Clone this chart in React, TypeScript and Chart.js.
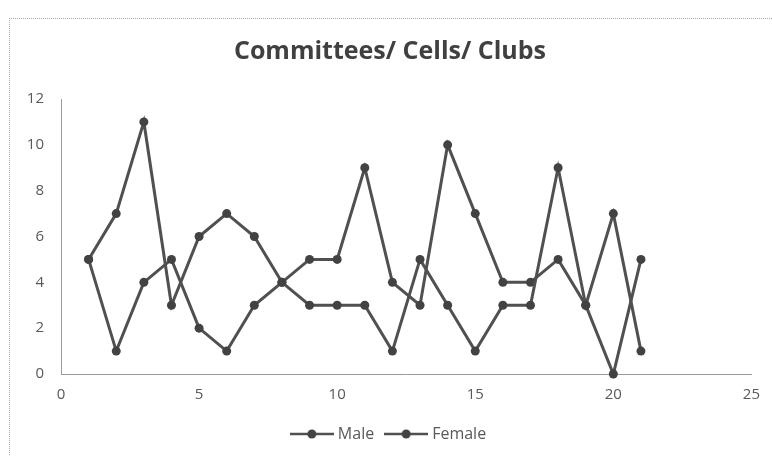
import React, { useEffect, useRef } from "react";
import { Chart, registerables } from "chart.js";

Chart.register(...registerables);

// Committee / cell / club index along the x axis
const xValues = [1, 2, 3, 4, 5, 6, 7, 8, 9, 10, 11, 12, 13, 14, 15, 16, 17, 18, 19, 20, 21];
// Member counts per committee
const maleCounts = [5, 7, 11, 3, 6, 7, 6, 4, 3, 3, 3, 1, 5, 3, 1, 3, 3, 9, 3, 7, 1];
const femaleCounts = [5, 1, 4, 5, 2, 1, 3, 4, 5, 5, 9, 4, 3, 10, 7, 4, 4, 5, 3, 0, 5];
const seriesNames = ["Male", "Female"];

const chartTitle = "Committees/ Cells/ Clubs";
const xMax = 25;
const xStep = 5;
const yMax = 12;
const yStep = 2;

const LINE = "#505050";
const MARK = "#424242";
const TEXT = "#595959";
const FONT = "'Open Sans', Lato, sans-serif";

// Legend swatch: short line with a marker in its middle
function makeSwatch(): HTMLCanvasElement {
  const c = document.createElement("canvas");
  c.width = 44;
  c.height = 12;
  const g = c.getContext("2d")!;
  g.strokeStyle = LINE;
  g.lineWidth = 2.5;
  g.beginPath();
  g.moveTo(0, 6);
  g.lineTo(44, 6);
  g.stroke();
  g.fillStyle = MARK;
  g.beginPath();
  g.arc(22, 6, 4.5, 0, Math.PI * 2);
  g.fill();
  return c;
}

export default function App() {
  const canvasRef = useRef<HTMLCanvasElement | null>(null);

  useEffect(() => {
    if (!canvasRef.current) return;
    const swatch = makeSwatch();
    const toPoints = (vals: number[]) => xValues.map((x, i) => ({ x, y: vals[i] }));

    const chart = new Chart(canvasRef.current, {
      type: "scatter",
      data: {
        datasets: [maleCounts, femaleCounts].map((vals, i) => ({
          label: seriesNames[i],
          data: toPoints(vals),
          showLine: true,
          borderColor: LINE,
          borderWidth: 3,
          backgroundColor: MARK,
          pointBackgroundColor: MARK,
          pointBorderColor: MARK,
          pointRadius: 4.5,
          pointBorderWidth: 0,
          clip: false as any,
        })),
      },
      options: {
        animation: false,
        responsive: false,
        maintainAspectRatio: false,
        layout: { padding: { left: 28, right: 20, top: 0, bottom: 4 } },
        plugins: {
          tooltip: { enabled: false },
          title: {
            display: true,
            text: chartTitle,
            color: "#404040",
            font: { family: FONT, size: 25, weight: "bold" },
            padding: { top: 37, bottom: 32 },
          },
          legend: {
            position: "bottom",
            labels: {
              usePointStyle: true,
              pointStyleWidth: 36,
              color: TEXT,
              font: { family: FONT, size: 16 },
              padding: 14,
              generateLabels: (ch) =>
                ch.data.datasets.map((ds, i) => ({
                  text: ds.label as string,
                  datasetIndex: i,
                  pointStyle: swatch as any,
                  fillStyle: MARK,
                  strokeStyle: LINE,
                  lineWidth: 0,
                  hidden: false,
                  fontColor: TEXT,
                })),
            },
          },
        },
        scales: {
          x: {
            type: "linear",
            min: 0,
            max: xMax,
            ticks: {
              stepSize: xStep,
              color: TEXT,
              font: { family: FONT, size: 15 },
              padding: 12,
              maxRotation: 0,
            },
            grid: { display: false, drawTicks: false },
            border: { display: true, color: "#9a9a9a", width: 1, dash: [1, 2] },
            afterFit: (s: any) => {
              s.height = 38;
            },
          },
          y: {
            min: 0,
            max: yMax,
            ticks: {
              stepSize: yStep,
              color: TEXT,
              font: { family: FONT, size: 15 },
              padding: 17,
            },
            grid: { display: false, drawTicks: false },
            border: { display: true, color: "#9a9a9a", width: 1, dash: [1, 2] },
            afterFit: (s: any) => {
              s.width = 33;
            },
          },
        },
      },
    });
    return () => chart.destroy();
  }, []);

  return (
    <div
      style={{
        position: "fixed",
        left: 0,
        top: 0,
        width: 772,
        height: 456,
        background: "#ffffff",
        overflow: "hidden",
      }}
    >
      <div
        style={{
          position: "absolute",
          left: 9,
          top: 18,
          width: 800,
          height: 500,
          borderLeft: "1px dotted #a8a8a8",
          borderTop: "1px dotted #a8a8a8",
        }}
      />
      <canvas ref={canvasRef} width={772} height={456} style={{ position: "absolute", left: 0, top: 0 }} />
    </div>
  );
}
